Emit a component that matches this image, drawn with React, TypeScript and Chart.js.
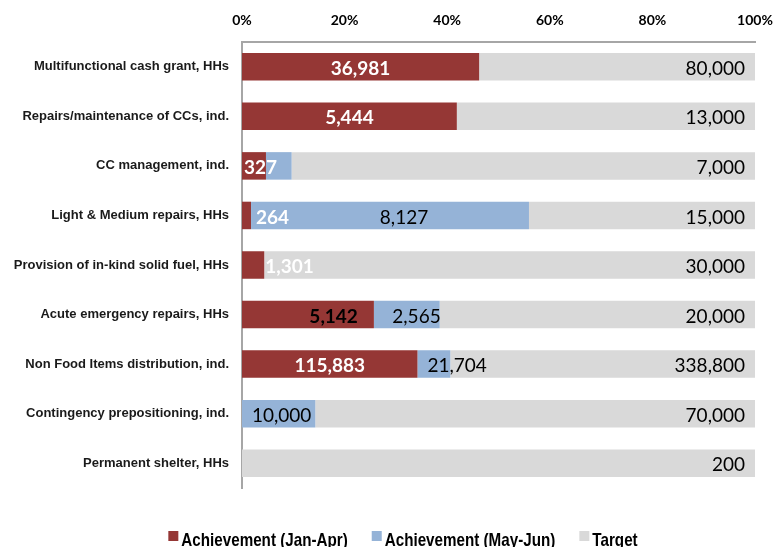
import React, { useEffect, useRef } from "react";
import { Chart, registerables } from "chart.js";

Chart.register(...registerables);

const categories = [
  "Multifunctional cash grant, HHs",
  "Repairs/maintenance of CCs, ind.",
  "CC management, ind.",
  "Light & Medium repairs, HHs",
  "Provision of in-kind solid fuel, HHs",
  "Acute emergency repairs, HHs",
  "Non Food Items distribution, ind.",
  "Contingency prepositioning, ind.",
  "Permanent shelter, HHs",
];

const achievementJanApr = [36981, 5444, 327, 264, 1301, 5142, 115883, 0, 0];
const achievementMayJun = [0, 0, 350, 8127, 0, 2565, 21704, 10000, 0];
const targets = [80000, 13000, 7000, 15000, 30000, 20000, 338800, 70000, 200];

const xTicks = [0, 20, 40, 60, 80, 100];

const seriesNames = ["Achievement (Jan-Apr)", "Achievement (May-Jun)", "Target"];
const seriesColors = ["#953735", "#95B3D7", "#D9D9D9"];

// label placement styles (kept apart from the data)
type LabelPos = { ref: "base" | "mid" | "end"; align: CanvasTextAlign; dx: number } | null;
const C: LabelPos = { ref: "mid", align: "center", dx: 0 };
const janLabelPos: LabelPos[] = [
  C,
  C,
  { ref: "base", align: "left", dx: 2 },
  { ref: "end", align: "left", dx: 5 },
  { ref: "end", align: "left", dx: 1 },
  { ref: "end", align: "right", dx: -16 },
  C,
  null,
  null,
];
const janLabelColor = ["#fff", "#fff", "#fff", "#fff", "#fff", "#000", "#fff", "#fff", "#fff"];
const mayLabelPos: LabelPos[] = [
  null,
  null,
  null,
  { ref: "mid", align: "center", dx: 14 },
  null,
  { ref: "end", align: "right", dx: 1 },
  { ref: "base", align: "left", dx: 10 },
  { ref: "mid", align: "center", dx: 3 },
  null,
];
const targetLabelPos: LabelPos[] = targets.map(() => ({ ref: "end", align: "right", dx: -10 }));

const pctJan = achievementJanApr.map((v, i) => (v / targets[i]) * 100);
const pctMay = achievementMayJun.map((v, i) => (v / targets[i]) * 100);
const pctRest = targets.map((_, i) => 100 - pctJan[i] - pctMay[i]);

const labelSpecs = [
  { raw: achievementJanApr, pos: janLabelPos, colors: janLabelColor, font: "bold 19px Lato" },
  { raw: achievementMayJun, pos: mayLabelPos, colors: targets.map(() => "#000"), font: "19px Lato" },
  { raw: targets, pos: targetLabelPos, colors: targets.map(() => "#000"), font: "19px Lato" },
];

const segLabels = {
  id: "segLabels",
  afterDatasetsDraw(chart: any) {
    const ctx = chart.ctx as CanvasRenderingContext2D;
    chart.data.datasets.forEach((_: any, di: number) => {
      const meta = chart.getDatasetMeta(di);
      const spec = labelSpecs[di];
      meta.data.forEach((el: any, i: number) => {
        const raw = spec.raw[i];
        const p = spec.pos[i];
        if (!raw || !p) return;
        const { x, base, y } = el.getProps(["x", "base", "y"], true);
        const left = Math.min(x, base);
        const right = Math.max(x, base);
        const refX = p.ref === "base" ? left : p.ref === "end" ? right : (left + right) / 2;
        ctx.save();
        ctx.font = spec.font;
        ctx.fillStyle = spec.colors[i];
        ctx.textAlign = p.align;
        ctx.textBaseline = "middle";
        ctx.fillText(raw.toLocaleString("en-US"), refX + p.dx, y + 2);
        ctx.restore();
      });
    });
  },
};

const bottomLegend = {
  id: "bottomLegend",
  afterDraw(chart: any) {
    const ctx = chart.ctx as CanvasRenderingContext2D;
    ctx.save();
    const squeeze = 0.8;
    ctx.font = "bold 19px 'Liberation Sans', Arial, sans-serif";
    const box = 10;
    const gapBox = 3;
    const gapItem = 24;
    const items = chart.data.datasets.map((d: any) => ({
      text: d.label as string,
      color: d.backgroundColor as string,
      w: ctx.measureText(d.label).width * squeeze,
    }));
    const total =
      items.reduce((s: number, it: any) => s + box + gapBox + it.w, 0) + gapItem * (items.length - 1);
    let x = 403 - total / 2;
    const boxTop = 531;
    const baseline = 546;
    items.forEach((it: any) => {
      ctx.fillStyle = it.color;
      ctx.fillRect(x, boxTop, box, box);
      x += box + gapBox;
      ctx.save();
      ctx.translate(x, baseline);
      ctx.scale(squeeze, 1);
      ctx.fillStyle = "#000";
      ctx.textAlign = "left";
      ctx.textBaseline = "alphabetic";
      ctx.fillText(it.text, 0, 0);
      ctx.restore();
      x += it.w + gapItem;
    });
    ctx.restore();
  },
};

export default function App() {
  const ref = useRef<HTMLCanvasElement | null>(null);

  useEffect(() => {
    if (!ref.current) return;
    const chart = new Chart(ref.current, {
      type: "bar",
      data: {
        labels: categories,
        datasets: [
          { label: seriesNames[0], data: pctJan, backgroundColor: seriesColors[0] },
          { label: seriesNames[1], data: pctMay, backgroundColor: seriesColors[1] },
          { label: seriesNames[2], data: pctRest, backgroundColor: seriesColors[2] },
        ],
      },
      options: {
        indexAxis: "y",
        responsive: false,
        animation: false,
        events: [],
        layout: { padding: { left: 0, right: 20, top: 0, bottom: 59 } },
        datasets: {
          bar: { barPercentage: 0.555, categoryPercentage: 1, borderWidth: 0 },
        },
        plugins: {
          legend: { display: false },
          tooltip: { enabled: false },
          title: { display: false },
        },
        scales: {
          x: {
            position: "top",
            stacked: true,
            min: 0,
            max: 100,
            afterBuildTicks: (s: any) => {
              s.ticks = xTicks.map((v) => ({ value: v }));
            },
            afterFit: (s: any) => {
              s.height = 42;
              s.paddingLeft = 0;
              s.paddingRight = 0;
            },
            grid: { display: false, drawTicks: false },
            border: { display: true, color: "#a6a6a6", width: 2 },
            ticks: {
              padding: 13,
              color: "#000",
              font: { family: "Lato", size: 14, weight: "bold" },
              callback: (v: any) => v + "%",
            },
          },
          y: {
            stacked: true,
            afterFit: (s: any) => {
              s.width = 242;
              s.paddingTop = 0;
              s.paddingBottom = 0;
            },
            grid: { display: false, drawTicks: false },
            border: { display: true, color: "#a6a6a6", width: 2 },
            ticks: {
              padding: 13,
              autoSkip: false,
              color: "#1a1a1a",
              font: { family: "'Liberation Sans', Arial, sans-serif", size: 13, weight: "bold" },
            },
          },
        },
      },
      plugins: [segLabels, bottomLegend],
    });
    return () => chart.destroy();
  }, []);

  return (
    <div style={{ position: "fixed", left: 0, top: 0, width: 775, height: 547, background: "#fff" }}>
      <canvas ref={ref} width={775} height={547} style={{ display: "block" }} />
    </div>
  );
}
